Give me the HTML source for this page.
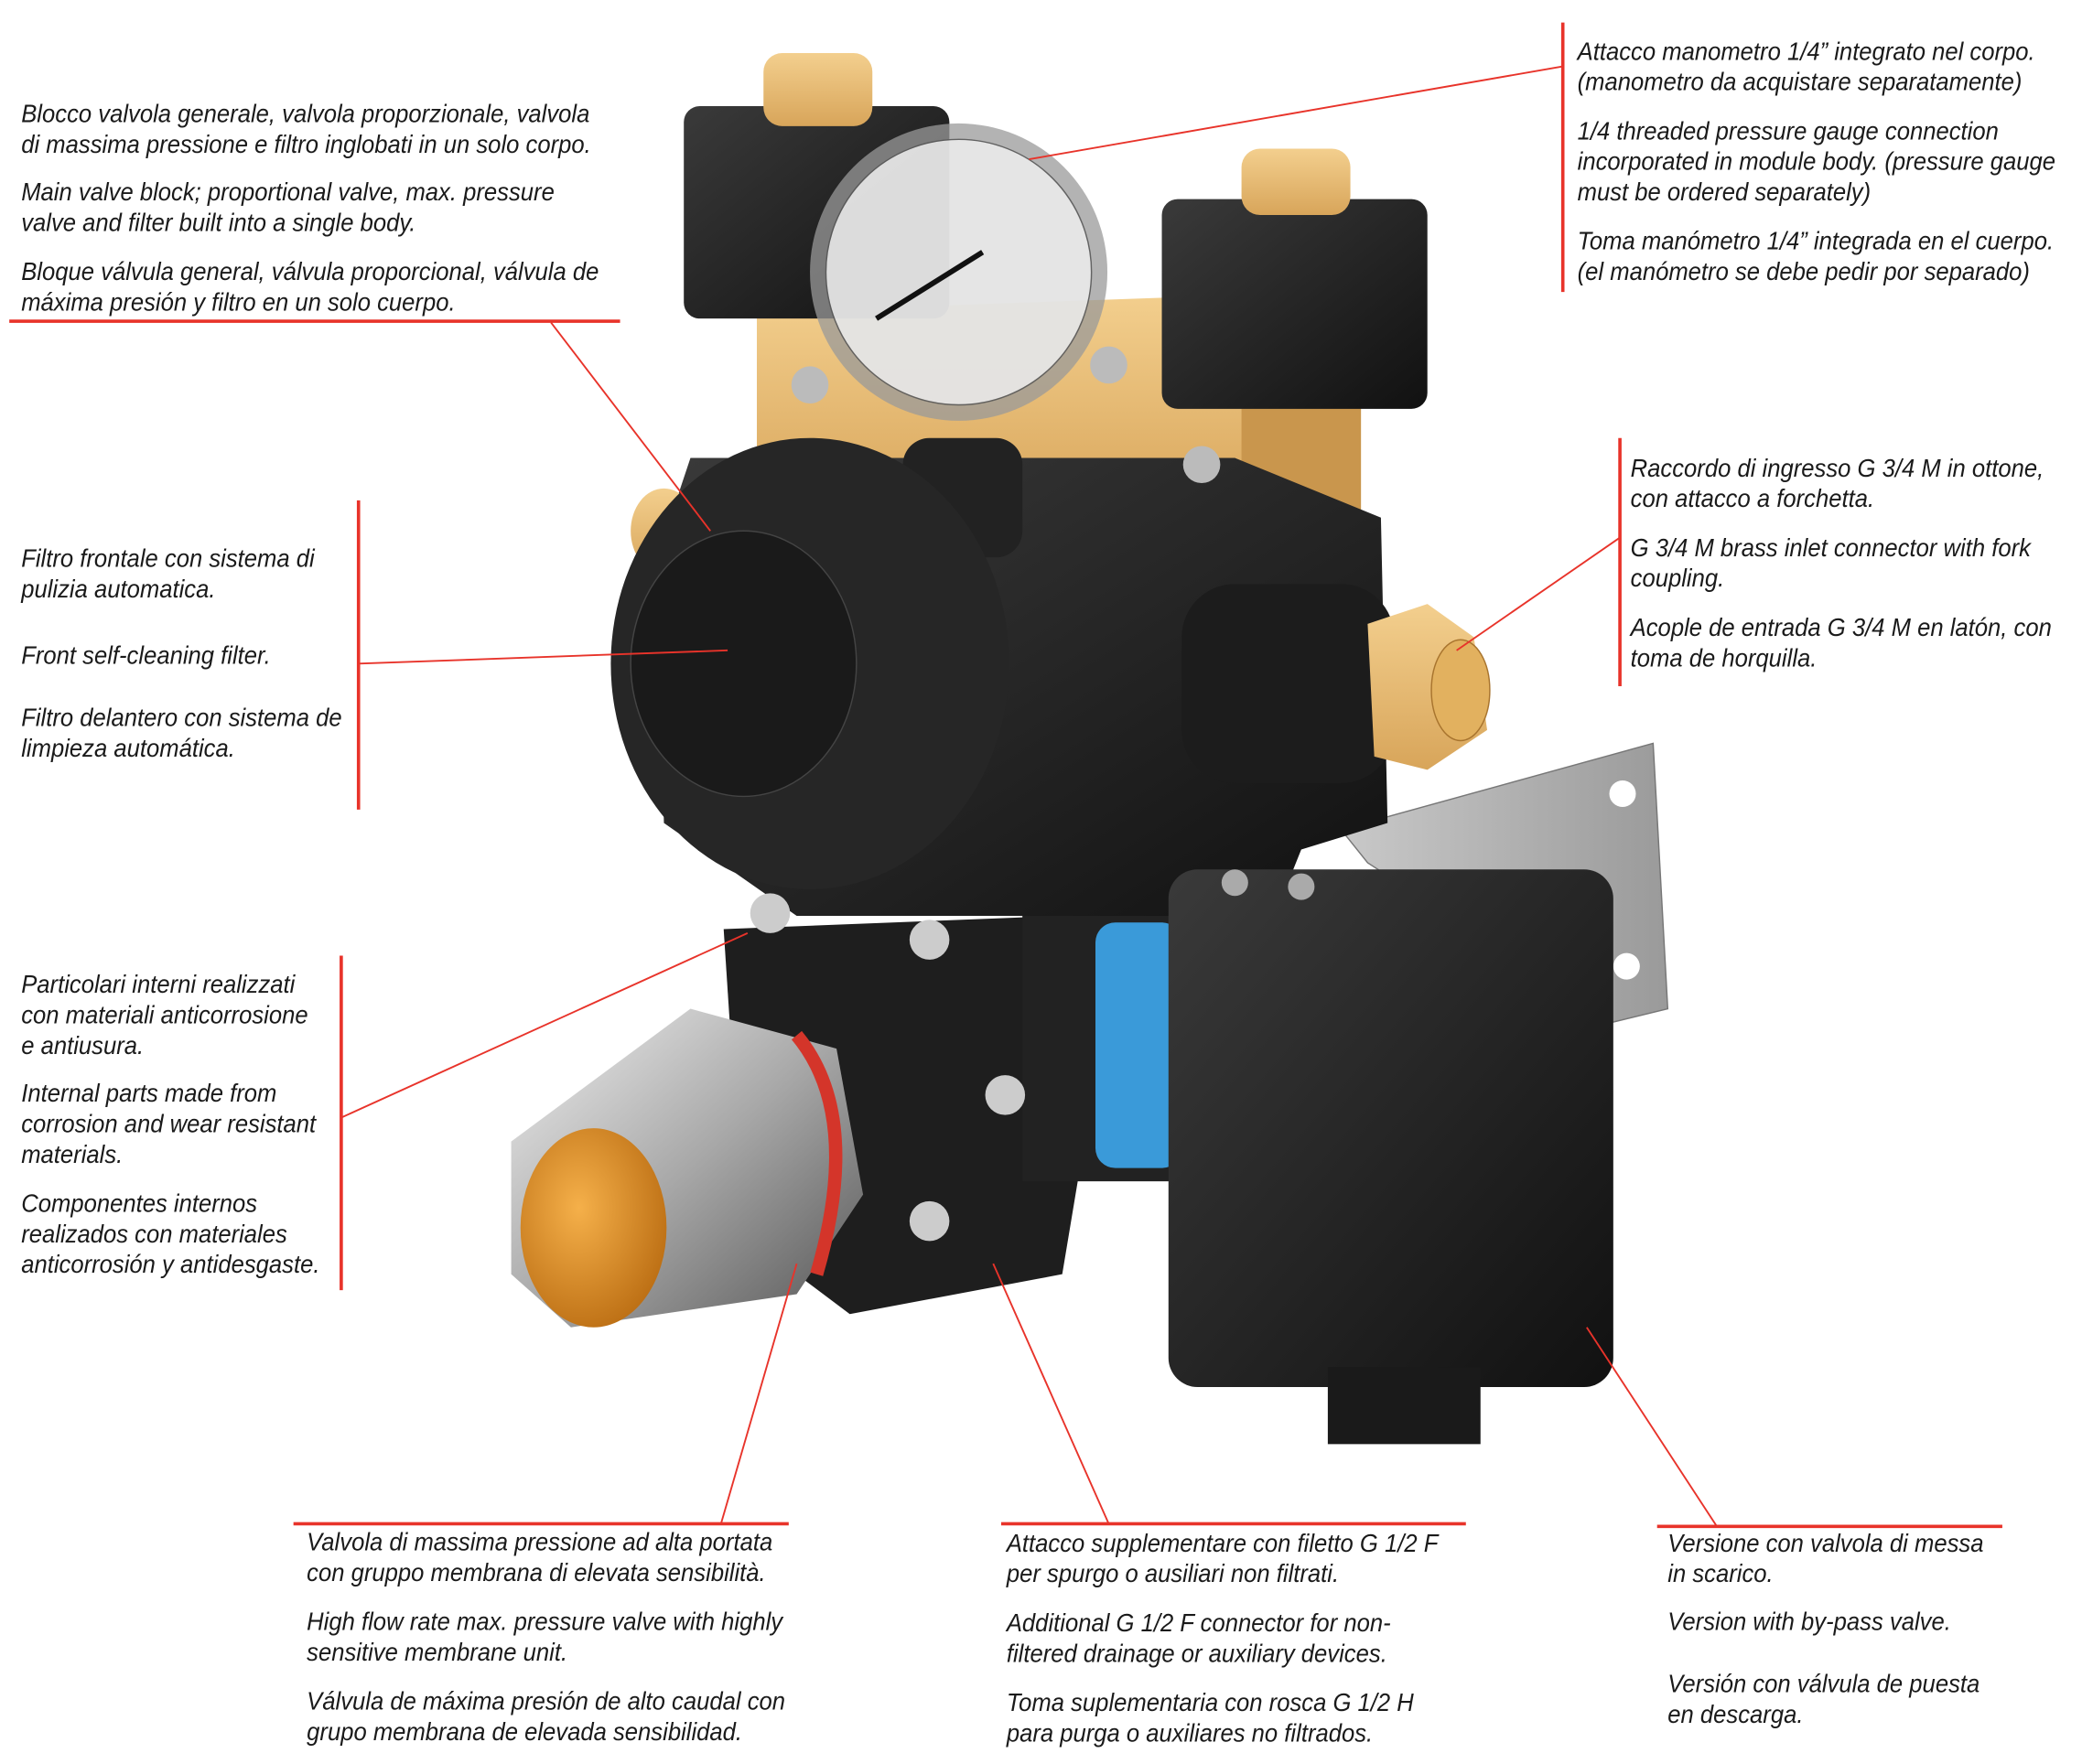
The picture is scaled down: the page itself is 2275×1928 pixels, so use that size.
<!DOCTYPE html>
<html><head><meta charset="utf-8"><style>
html,body{margin:0;padding:0;background:#fff}
svg{display:block}
text{font-family:"Liberation Sans Narrow","Liberation Sans",sans-serif;font-style:italic;font-size:19px;fill:#1a1a1a}
</style></head><body>
<svg width="2275" height="1928" viewBox="0 0 1568 1329" preserveAspectRatio="none" xmlns="http://www.w3.org/2000/svg">
<defs>
<linearGradient id="brass" x1="0" y1="0" x2="0" y2="1"><stop offset="0" stop-color="#f3cf8e"/><stop offset="1" stop-color="#d8a55a"/></linearGradient>
<linearGradient id="blk" x1="0" y1="0" x2="1" y2="1"><stop offset="0" stop-color="#3a3a3a"/><stop offset="1" stop-color="#111"/></linearGradient>
<linearGradient id="silv" x1="0" y1="0" x2="1" y2="1"><stop offset="0" stop-color="#f0f0f0"/><stop offset=".5" stop-color="#a8a8a8"/><stop offset="1" stop-color="#555"/></linearGradient>
<radialGradient id="org" cx=".4" cy=".4" r=".7"><stop offset="0" stop-color="#f5b04a"/><stop offset="1" stop-color="#b86a10"/></radialGradient>
<linearGradient id="brk" x1="0" y1="0" x2="1" y2="0"><stop offset="0" stop-color="#c9c9c9"/><stop offset="1" stop-color="#9a9a9a"/></linearGradient>
</defs>
<polygon points="1010,625 1245,560 1256,760 1215,770 1030,650" fill="url(#brk)" stroke="#777"/>
<circle cx="1222" cy="598" r="10" fill="#fff"/><circle cx="1225" cy="728" r="10" fill="#fff"/>
<polygon points="570,235 1000,220 1020,300 1020,390 570,370" fill="url(#brass)"/>
<rect x="935" y="300" width="90" height="150" fill="#c9964d"/>
<path d="M520,345 L930,345 L1040,390 L1045,620 L980,640 L960,690 L600,690 L500,620 L495,420 Z" fill="url(#blk)"/>
<rect x="680" y="330" width="90" height="90" rx="20" fill="#222"/>
<ellipse cx="500" cy="400" rx="25" ry="32" fill="url(#brass)"/>
<rect x="890" y="440" width="160" height="150" rx="40" fill="#1c1c1c"/>
<polygon points="1030,470 1075,455 1110,480 1120,550 1075,580 1035,570" fill="url(#brass)"/>
<ellipse cx="1100" cy="520" rx="22" ry="38" fill="#e2b15f" stroke="#a8742e"/>
<ellipse cx="610" cy="500" rx="150" ry="170" fill="#262626"/>
<ellipse cx="560" cy="500" rx="85" ry="100" fill="#1a1a1a" stroke="#444"/>
<rect x="515" y="80" width="200" height="160" rx="12" fill="url(#blk)"/>
<rect x="575" y="40" width="82" height="55" rx="14" fill="url(#brass)"/>
<rect x="875" y="150" width="200" height="158" rx="12" fill="url(#blk)"/>
<rect x="935" y="112" width="82" height="50" rx="14" fill="url(#brass)"/>
<circle cx="722" cy="205" r="112" fill="#9a9a9a" opacity=".75"/>
<circle cx="722" cy="205" r="100" fill="#eee" opacity=".85" stroke="#555"/>
<line x1="660" y1="240" x2="740" y2="190" stroke="#111" stroke-width="4"/>
<circle cx="610" cy="290" r="14" fill="#bbb"/><circle cx="835" cy="275" r="14" fill="#bbb"/><circle cx="905" cy="350" r="14" fill="#bbb"/>
<path d="M545,700 L800,690 L830,780 L800,960 L640,990 L560,930 Z" fill="#1e1e1e"/>
<rect x="770" y="690" width="120" height="200" fill="#222"/>
<rect x="825" y="695" width="65" height="185" rx="15" fill="#3a9ad9"/>
<circle cx="580" cy="688" r="15" fill="#ccc"/><circle cx="700" cy="708" r="15" fill="#ccc"/><circle cx="757" cy="825" r="15" fill="#ccc"/><circle cx="700" cy="920" r="15" fill="#ccc"/>
<polygon points="385,860 520,760 630,790 650,900 600,975 430,1000 385,960" fill="url(#silv)"/>
<path d="M600,780 Q650,840 615,960" stroke="#d4352a" stroke-width="10" fill="none"/>
<ellipse cx="447" cy="925" rx="55" ry="75" fill="url(#org)"/>
<rect x="880" y="655" width="335" height="390" rx="22" fill="url(#blk)"/>
<rect x="1000" y="1030" width="115" height="58" fill="#1a1a1a"/>
<circle cx="930" cy="665" r="10" fill="#aaa"/><circle cx="980" cy="668" r="10" fill="#aaa"/>

<g stroke="#e8332a" stroke-width="1.3" fill="none">
<line x1="7" y1="242" x2="467" y2="242" stroke-width="2.5"/>
<line x1="415" y1="243" x2="535" y2="400"/>
<line x1="270" y1="377" x2="270" y2="610" stroke-width="2.5"/>
<line x1="270" y1="500" x2="548" y2="490"/>
<line x1="257" y1="720" x2="257" y2="972" stroke-width="2.5"/>
<line x1="257" y1="842" x2="563" y2="703"/>
<line x1="1177" y1="17" x2="1177" y2="220" stroke-width="2.5"/>
<line x1="1177" y1="50" x2="775" y2="120"/>
<line x1="1220" y1="330" x2="1220" y2="517" stroke-width="2.5"/>
<line x1="1220" y1="405" x2="1097" y2="490"/>
<line x1="221" y1="1148" x2="594" y2="1148" stroke-width="2.5"/>
<line x1="543" y1="1148" x2="600" y2="952"/>
<line x1="754" y1="1148" x2="1104" y2="1148" stroke-width="2.5"/>
<line x1="835" y1="1148" x2="748" y2="952"/>
<line x1="1248" y1="1150" x2="1508" y2="1150" stroke-width="2.5"/>
<line x1="1293" y1="1150" x2="1195" y2="1000"/>
</g>

<g transform="scale(0.93 1)">
<text x="17.2" y="92">Blocco valvola generale, valvola proporzionale, valvola</text>
<text x="17.2" y="115">di massima pressione e filtro inglobati in un solo corpo.</text>
<text x="17.2" y="151">Main valve block; proportional valve, max. pressure</text>
<text x="17.2" y="174">valve and filter built into a single body.</text>
<text x="17.2" y="211">Bloque válvula general, válvula proporcional, válvula de</text>
<text x="17.2" y="234">máxima presión y filtro en un solo cuerpo.</text>

<text x="17.2" y="427">Filtro frontale con sistema di</text>
<text x="17.2" y="450">pulizia automatica.</text>
<text x="17.2" y="500">Front self-cleaning filter.</text>
<text x="17.2" y="547">Filtro delantero con sistema de</text>
<text x="17.2" y="570">limpieza automática.</text>

<text x="17.2" y="748">Particolari interni realizzati</text>
<text x="17.2" y="771">con materiali anticorrosione</text>
<text x="17.2" y="794">e antiusura.</text>
<text x="17.2" y="830">Internal parts made from</text>
<text x="17.2" y="853">corrosion and wear resistant</text>
<text x="17.2" y="876">materials.</text>
<text x="17.2" y="913">Componentes internos</text>
<text x="17.2" y="936">realizados con materiales</text>
<text x="17.2" y="959">anticorrosión y antidesgaste.</text>

<text x="1277.4" y="45">Attacco manometro 1/4” integrato nel corpo.</text>
<text x="1277.4" y="68">(manometro da acquistare separatamente)</text>
<text x="1277.4" y="105">1/4 threaded pressure gauge connection</text>
<text x="1277.4" y="128">incorporated in module body. (pressure gauge</text>
<text x="1277.4" y="151">must be ordered separately)</text>
<text x="1277.4" y="188">Toma manómetro 1/4” integrada en el cuerpo.</text>
<text x="1277.4" y="211">(el manómetro se debe pedir por separado)</text>

<text x="1320.4" y="359">Raccordo di ingresso G 3/4 M in ottone,</text>
<text x="1320.4" y="382">con attacco a forchetta.</text>
<text x="1320.4" y="419">G 3/4 M brass inlet connector with fork</text>
<text x="1320.4" y="442">coupling.</text>
<text x="1320.4" y="479">Acople de entrada G 3/4 M en latón, con</text>
<text x="1320.4" y="502">toma de horquilla.</text>

<text x="248.4" y="1168">Valvola di massima pressione ad alta portata</text>
<text x="248.4" y="1191">con gruppo membrana di elevata sensibilità.</text>
<text x="248.4" y="1228">High flow rate max. pressure valve with highly</text>
<text x="248.4" y="1251">sensitive membrane unit.</text>
<text x="248.4" y="1288">Válvula de máxima presión de alto caudal con</text>
<text x="248.4" y="1311">grupo membrana de elevada sensibilidad.</text>

<text x="815.1" y="1169">Attacco supplementare con filetto G 1/2 F</text>
<text x="815.1" y="1192">per spurgo o ausiliari non filtrati.</text>
<text x="815.1" y="1229">Additional G 1/2 F connector for non-</text>
<text x="815.1" y="1252">filtered drainage or auxiliary devices.</text>
<text x="815.1" y="1289">Toma suplementaria con rosca G 1/2 H</text>
<text x="815.1" y="1312">para purga o auxiliares no filtrados.</text>

<text x="1350.5" y="1169">Versione con valvola di messa</text>
<text x="1350.5" y="1192">in scarico.</text>
<text x="1350.5" y="1228">Version with by-pass valve.</text>
<text x="1350.5" y="1275">Versión con válvula de puesta</text>
<text x="1350.5" y="1298">en descarga.</text>
</g>
</svg>
</body></html>
